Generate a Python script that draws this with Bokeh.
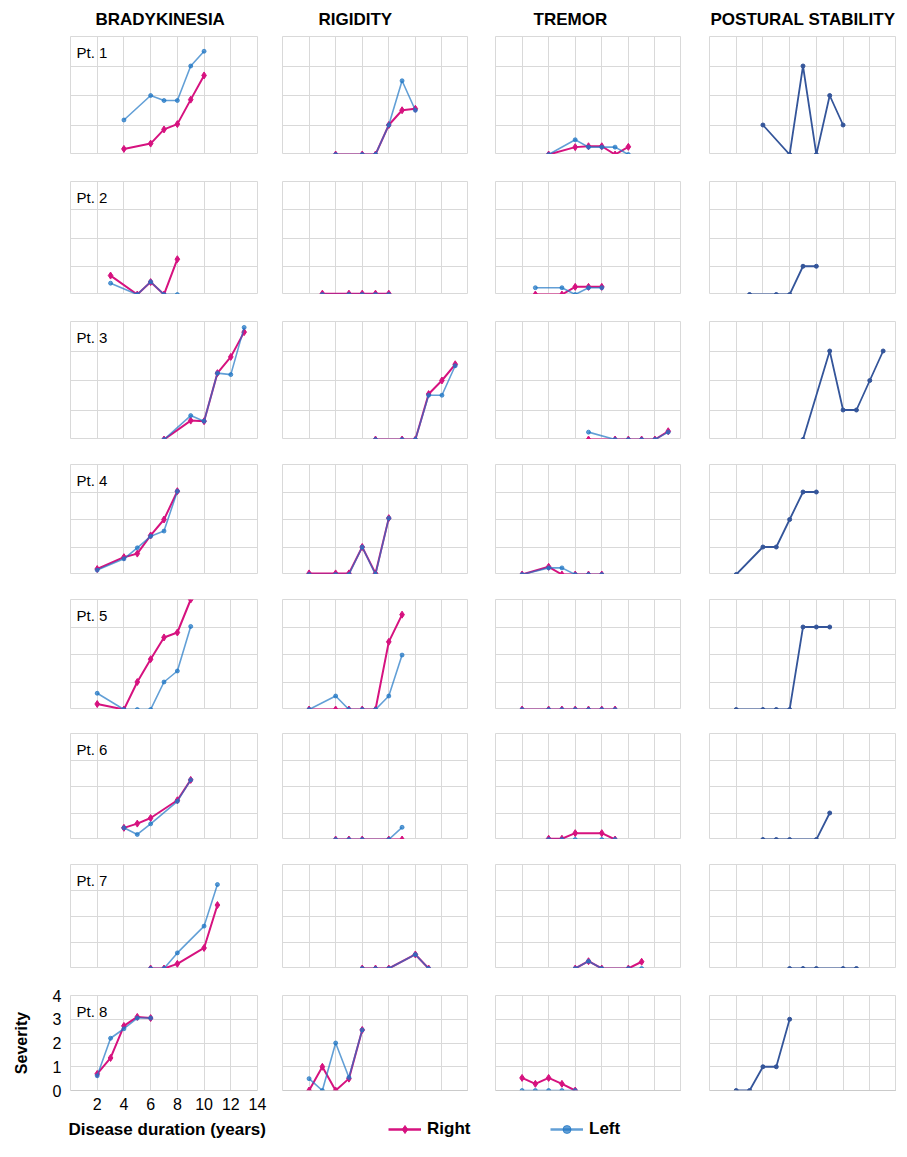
import numpy as np
from bokeh.plotting import figure
from bokeh.models import Range1d, Grid, FixedTicker, Label, Legend, LegendItem, Span
from bokeh.layouts import gridplot, column
from bokeh.embed import file_html
from bokeh.resources import INLINE

# ---------------- data (disease duration in years, severity) ----------------
patients = ["Pt. 1", "Pt. 2", "Pt. 3", "Pt. 4", "Pt. 5", "Pt. 6", "Pt. 7", "Pt. 8"]
domains = ["BRADYKINESIA", "RIGIDITY", "TREMOR", "POSTURAL STABILITY"]

years = [
    [4, 6, 7, 8, 9, 10],
    [3, 5, 6, 7, 8],
    [7, 9, 10, 11, 12, 13],
    [2, 4, 5, 6, 7, 8],
    [2, 4, 5, 6, 7, 8, 9],
    [4, 5, 6, 8, 9],
    [6, 7, 8, 10, 11],
    [2, 3, 4, 5, 6],
]

brady_right = [
    [0.19, 0.37, 0.85, 1.03, 1.86, 2.68],
    [0.67, 0.0, 0.44, 0.0, 1.25],
    [0.0, 0.64, 0.62, 2.25, 2.8, 3.64],
    [0.2, 0.63, 0.76, 1.42, 2.0, 3.03],
    [0.2, 0.0, 1.0, 1.83, 2.62, 2.8, 4.0],
    [0.44, 0.6, 0.81, 1.48, 2.25],
    [0.0, 0.0, 0.18, 0.79, 2.44],
    [0.7, 1.37, 2.72, 3.1, 3.05],
]
brady_left = [
    [1.17, 2.0, 1.83, 1.83, 3.0, 3.5],
    [0.4, 0.0, 0.45, 0.0, 0.0],
    [0.0, 0.81, 0.62, 2.25, 2.2, 3.8],
    [0.16, 0.57, 0.97, 1.39, 1.58, 3.03],
    [0.59, 0.0, 0.0, 0.0, 1.0, 1.4, 3.02],
    [0.44, 0.19, 0.59, 1.44, 2.25],
    [0.0, 0.0, 0.6, 1.63, 3.23],
    [0.62, 2.2, 2.6, 3.05, 3.05],
]

rigid_right = [
    [0.0, 0.0, 0.0, 1.0, 1.5, 1.55],
    [0.03, 0.03, 0.03, 0.03, 0.03],
    [0.0, 0.0, 0.0, 1.54, 2.0, 2.55],
    [0.04, 0.04, 0.04, 1.0, 0.04, 2.05],
    [0.0, 0.0, 0.0, 0.0, 0.0, 2.46, 3.45],
    [0.0, 0.0, 0.0, 0.0, 0.0],
    [0.0, 0.0, 0.0, 0.54, 0.0],
    [0.0, 1.0, 0.0, 0.5, 2.55],
]
rigid_left = [
    [0.0, 0.0, 0.0, 1.0, 2.5, 1.5],
    [0.0, 0.0, 0.0, 0.0, 0.0],
    [0.0, 0.0, 0.0, 1.5, 1.5, 2.5],
    [0.0, 0.0, 0.0, 1.0, 0.0, 2.05],
    [0.0, 0.49, 0.0, 0.0, 0.0, 0.49, 1.98],
    [0.0, 0.0, 0.0, 0.0, 0.46],
    [0.0, 0.0, 0.0, 0.54, 0.0],
    [0.5, 0.0, 2.0, 0.55, 2.55],
]

tremor_right = [
    [0.0, 0.25, 0.28, 0.28, 0.0, 0.26],
    [0.0, 0.0, 0.27, 0.27, 0.27],
    [0.0, 0.0, 0.0, 0.0, 0.0, 0.28],
    [0.0, 0.28, 0.0, 0.0, 0.0, 0.0],
    [0.0, 0.0, 0.0, 0.0, 0.0, 0.0, 0.0],
    [0.03, 0.03, 0.24, 0.24, 0.0],
    [0.0, 0.28, 0.0, 0.0, 0.26],
    [0.53, 0.28, 0.53, 0.28, 0.0],
]
tremor_left = [
    [0.0, 0.5, 0.25, 0.25, 0.25, 0.0],
    [0.24, 0.24, 0.0, 0.24, 0.24],
    [0.25, 0.0, 0.0, 0.0, 0.0, 0.25],
    [0.0, 0.24, 0.24, 0.0, 0.0, 0.0],
    [0.0, 0.0, 0.0, 0.0, 0.0, 0.0, 0.0],
    [0.0, 0.0, 0.0, 0.0, 0.0],
    [0.0, 0.28, 0.0, 0.0, 0.0],
    [0.0, 0.0, 0.0, 0.0, 0.0],
]

postural = [
    [1, 0, 3, 0, 2, 1],
    [0, 0, 0, 1, 1],
    [0, 3, 1, 1, 2, 3],
    [0, 1, 1, 2, 3, 3],
    [0, 0, 0, 0, 3, 3, 3],
    [0, 0, 0, 0, 1],
    [0, 0, 0, 0, 0],
    [0, 0, 1, 1, 3],
]

x_ticks = [2, 4, 6, 8, 10, 12, 14]
y_ticks = [0, 1, 2, 3, 4]
legend_labels = ["Right", "Left"]

# ---------------- styling / layout ----------------
RED = "#d6127f"
BLUE = "#1f76c4"
BLUE_ALPHA = 0.7
DARK = "#34559a"
GRID = "#d9d9d9"
FONT = "Liberation Sans"

FRAME_W = [187, 186, 186, 187]
LEFT_B = [70, 15, 27, 28]
RIGHT_B = [10, 0, 0, 0]
FRAME_H = [118, 113, 118, 110, 110, 106, 104, 95]
TOP_B = [32, 27, 27, 25, 25, 24, 25, 27]
BOTTOM_LAST = 27
TOTAL_W = sum(FRAME_W) + sum(LEFT_B) + sum(RIGHT_B)
FOOT_H = 22

title_offsets = [25, 36, 38, 1]


def make_fig(r, c):
    last = r == len(patients) - 1
    axes = last and c == 0
    p = figure(
        frame_width=FRAME_W[c], frame_height=FRAME_H[r],
        x_range=Range1d(0, 14), y_range=Range1d(0, 4),
        output_backend="svg", toolbar_location=None, tools="",
        x_axis_location="below" if axes else None,
        y_axis_location="left" if axes else None,
        min_border=0,
    )
    p.center = [g for g in p.center if not isinstance(g, Grid)]
    p.add_layout(Grid(dimension=0, ticker=FixedTicker(ticks=list(range(0, 15, 2))),
                      grid_line_color=GRID))
    p.add_layout(Grid(dimension=1, ticker=FixedTicker(ticks=y_ticks),
                      grid_line_color=GRID))
    p.min_border_left = LEFT_B[c]
    p.min_border_right = RIGHT_B[c]
    p.min_border_top = TOP_B[r]
    p.min_border_bottom = BOTTOM_LAST if last else 0
    p.outline_line_color = GRID
    p.background_fill_color = "white"
    p.border_fill_color = "white"
    if axes:
        p.xaxis.ticker = FixedTicker(ticks=x_ticks)
        p.yaxis.ticker = FixedTicker(ticks=y_ticks)
        for ax in (p.xaxis[0], p.yaxis[0]):
            ax.axis_line_color = None
            ax.major_tick_line_color = None
            ax.minor_tick_line_color = None
            ax.major_tick_out = 0
            ax.major_tick_in = 0
            ax.minor_tick_out = 0
            ax.minor_tick_in = 0
            ax.major_label_text_font = FONT
            ax.major_label_text_font_size = "16px"
            ax.major_label_text_color = "black"
            ax.axis_label_text_font = FONT
            ax.axis_label_text_font_style = "bold"
            ax.axis_label_text_color = "black"
            ax.axis_label_text_font_size = "16px"
        p.xaxis.major_label_standoff = 7
        p.yaxis.major_label_standoff = 9
        p.yaxis.axis_label = "Severity"
        p.yaxis.axis_label_standoff = 20
    p.add_layout(Span(location=0, dimension="width", line_color="#bdbdbd", line_width=1.2))
    if r == 0:
        p.title.text = domains[c]
        p.title.text_font = FONT
        p.title.text_font_size = "17px"
        p.title.text_font_style = "bold"
        p.title.text_color = "black"
        p.title.align = "left"
        p.title.offset = title_offsets[c]
        p.title.standoff = 15
    if c == 0:
        p.add_layout(Label(x=6, y=FRAME_H[r] - 7, x_units="screen", y_units="screen",
                           text=patients[r], text_baseline="top", text_font=FONT,
                           text_font_size="15px", text_color="black"))
    return p


grid_rows = []
for r in range(len(patients)):
    row_figs = []
    xs = years[r]
    pairs = [(brady_right[r], brady_left[r]), (rigid_right[r], rigid_left[r]),
             (tremor_right[r], tremor_left[r])]
    for c in range(4):
        p = make_fig(r, c)
        if c < 3:
            yr, yl = pairs[c]
            p.line(xs, yr, line_color=RED, line_width=2)
            p.scatter(xs, yr, marker="diamond", size=7, color=RED)
            p.line(xs, yl, line_color=BLUE, line_alpha=BLUE_ALPHA, line_width=1.6)
            p.scatter(xs, yl, marker="circle", size=4, color=BLUE, alpha=BLUE_ALPHA)
        else:
            p.line(xs, postural[r], line_color=DARK, line_width=1.8)
            p.scatter(xs, postural[r], marker="circle", size=4, color=DARK)
        row_figs.append(p)
    grid_rows.append(row_figs)

grid = gridplot(grid_rows, toolbar_location=None)

# ---------------- footer: x-axis title + legend ----------------
foot = figure(frame_width=TOTAL_W, frame_height=FOOT_H,
              x_range=Range1d(0, TOTAL_W), y_range=Range1d(0, FOOT_H),
              output_backend="svg", toolbar_location=None, tools="",
              x_axis_location=None, y_axis_location=None, min_border=0)
foot.center = [g for g in foot.center if not isinstance(g, Grid)]
foot.outline_line_color = None
foot.add_layout(Label(x=68, y=10, x_units="screen", y_units="screen",
                      text="Disease duration (years)", text_baseline="middle",
                      text_font=FONT, text_font_size="17px", text_font_style="bold",
                      text_color="black"))
# legend proxies (no visible data; styled like the series)
nan = [np.nan]
r_line = foot.line(nan, nan, line_color=RED, line_width=2.5)
r_mark = foot.scatter(nan, nan, marker="diamond", size=9, color=RED)
l_line = foot.line(nan, nan, line_color=BLUE, line_alpha=BLUE_ALPHA, line_width=2.5)
l_mark = foot.scatter(nan, nan, marker="circle", size=6, color=BLUE, alpha=BLUE_ALPHA)
for label, rends, xoff in ((legend_labels[0], [r_line, r_mark], 388),
                           (legend_labels[1], [l_line, l_mark], 550)):
    leg = Legend(items=[LegendItem(label=label, renderers=rends)], location=(xoff, 0),
                 border_line_color=None, background_fill_alpha=0, padding=0, margin=0,
                 glyph_width=33, glyph_height=20, label_standoff=6, label_height=20,
                 label_text_font=FONT, label_text_font_size="17px",
                 label_text_font_style="bold", label_text_color="black")
    foot.add_layout(leg, "center")

layout = column(grid, foot)

open("out.html", "w").write(file_html(layout, INLINE))
